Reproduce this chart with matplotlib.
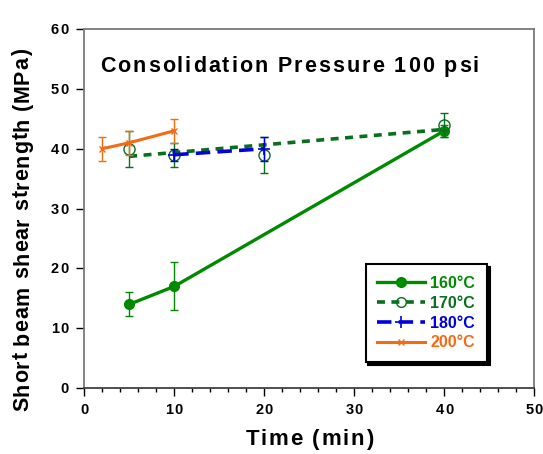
import numpy as np
import matplotlib.pyplot as plt
from matplotlib.transforms import offset_copy

plt.rcParams['font.family'] = ['Liberation Sans', 'DejaVu Sans']
plt.rcParams['font.weight'] = 'bold'

# shear strength vs. cure time, one series per temperature
t160 = [5, 10, 40]
s160 = [14, 17, 43]
e160 = [2, 4, 1]

t170 = [5, 10, 20, 40]
s170 = [40, 39, 39, 44]
e170 = [3, 2, 3, 2]

t180 = [10, 20]
s180 = [39, 40]
e180 = [1, 2]

t200 = [2, 5, 10]
s200 = [40, 41, 43]
e200 = [2, 2, 2]

xticks = [0, 10, 20, 30, 40, 50]
yticks = [0, 10, 20, 30, 40, 50, 60]

c160 = '#008a00'
c170 = '#0a6e1e'
c180 = '#0000dd'
c200 = '#f56a14'

fig = plt.figure(figsize=(5.43, 4.54), dpi=100)
ax = fig.add_axes([0.155, 0.145, 0.829, 0.791])
rend = fig.canvas.get_renderer()


def text_width(s, size):
    t = fig.text(0, 0, s, fontsize=size, fontweight='bold')
    w = t.get_window_extent(rend).width
    t.remove()
    return w


def spaced_text(x, y, s, size, gap, trans, ha='center', rot=0, color='black'):
    # letter-spaced text, one glyph at a time, offsets in pixels
    base = text_width('l', size)
    pos = [0] + [text_width(s[:i] + 'l', size) - base + gap * i for i in range(1, len(s))]
    total = text_width(s, size) + gap * (len(s) - 1)
    start = {'left': 0, 'center': -total / 2, 'right': -total}[ha]
    for c, p in zip(s, pos):
        if c == ' ':
            continue
        d = start + p
        dx, dy = (0, d) if rot == 90 else (d, 0)
        ax.text(x, y, c, transform=offset_copy(trans, fig=fig, x=dx, y=dy, units='dots'),
                fontsize=size, fontweight='bold', rotation=rot, rotation_mode='anchor',
                ha='left', va='baseline', color=color, clip_on=False)


# 160 C
ax.errorbar(t160, s160, yerr=e160, fmt='none', ecolor=c160, elinewidth=1, capsize=3)
ax.plot(t160, s160, '-', color=c160, lw=2.4, marker='o', ms=7, label='160°C')

# 170 C, linear fit through the points
ax.errorbar(t170, s170, yerr=e170, fmt='none', ecolor=c170, elinewidth=1, capsize=3)
ax.plot(t170, s170, 'o', color=c170, mfc='none', ms=8, mew=1)
k, b = np.polyfit(t170, s170, 1)
xf = np.array([t170[0], t170[-1]])
ax.plot(xf, k * xf + b, color=c170, lw=2.6, ls=(0, (2.2, 1.8)))
ax.plot([], [], color=c170, lw=2.6, ls=(0, (2.2, 1.8)), marker='o', mfc='none', ms=7,
        label='170°C')

# 180 C
ax.errorbar(t180, s180, yerr=e180, fmt='none', ecolor=c180, elinewidth=1, capsize=3)
ax.plot(t180, s180, color=c180, lw=2.6, ls=(0, (4, 2)), marker='+', ms=9, mew=1.2,
        label='180°C')

# 200 C
ax.errorbar(t200, s200, yerr=e200, fmt='none', ecolor=c200, elinewidth=1, capsize=3)
ax.plot(t200, s200, '-', color=c200, lw=2.2, marker='x', ms=5, mew=1, label='200°C')

ax.set_xlim(0, 50)
ax.set_ylim(0, 60)
ax.set_xticks(xticks)
ax.set_xticks(range(0, 51, 2), minor=True)
ax.set_yticks(yticks)
ax.set_xticklabels([])
ax.set_yticklabels([])
ax.tick_params(axis='both', which='major', direction='out', length=6, width=1)
ax.tick_params(axis='x', which='minor', direction='out', length=3, width=1)
for s in ax.spines.values():
    s.set_color('#7a7a7a')
    s.set_linewidth(1.3)
ax.spines['bottom'].set_color('#404040')

# tick labels
tx = ax.get_xaxis_transform()
for v in xticks:
    spaced_text(v, 0, str(v), 10.5, 1.2, offset_copy(tx, fig=fig, y=-26, units='dots'))
ty = ax.get_yaxis_transform()
for v in yticks:
    spaced_text(0, v, str(v), 10.5, 1.2, offset_copy(ty, fig=fig, x=-16, y=-5, units='dots'),
                ha='right')

spaced_text(0.5, 0, 'Time (min)', 16, 1.8,
            offset_copy(ax.transAxes, fig=fig, y=-57, units='dots'))
spaced_text(0, 0.44, 'Short beam shear strength (MPa)', 15.5, 0.8,
            offset_copy(ax.transAxes, fig=fig, x=-56, units='dots'), rot=90)
spaced_text(0.035, 0.88, 'Consolidation Pressure 100 psi', 15.5, 2.0, ax.transAxes,
            ha='left')

leg = ax.legend(loc='lower left', bbox_to_anchor=(0.625, 0.072), borderaxespad=0,
                fontsize=11.5, labelcolor='linecolor', handlelength=3.0,
                borderpad=0.75, labelspacing=0.3, handletextpad=0.3, fancybox=False,
                shadow={'color': 'black', 'alpha': 1}, framealpha=1)
leg.get_frame().set_edgecolor('black')
leg.get_frame().set_linewidth(1.5)

fig.savefig('out.png', dpi=100)
